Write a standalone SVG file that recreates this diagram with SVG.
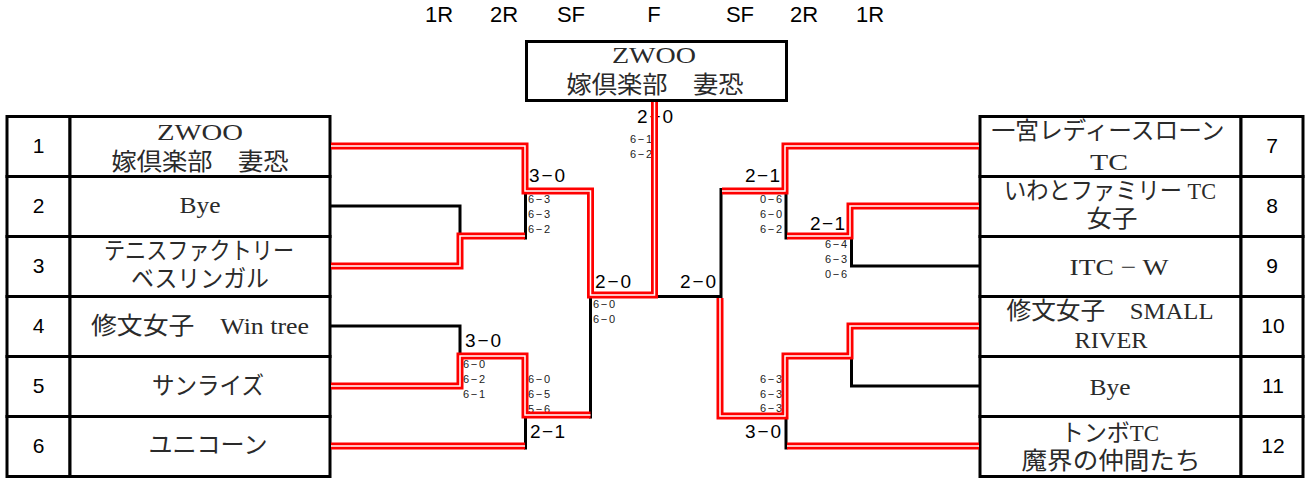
<svg xmlns="http://www.w3.org/2000/svg" xmlns:xlink="http://www.w3.org/1999/xlink" width="1305" height="479" viewBox="0 0 1305 479">
<style>
.cell{fill:#fff;stroke:#000;stroke-width:3}
.nm{font-family:"Liberation Serif","Noto Sans CJK JP",serif;font-size:24px;text-anchor:middle;fill:#2a2a2a}
.no{font-family:"Liberation Sans",Arial,sans-serif;font-size:21px;text-anchor:middle;fill:#000}
.hd{font-family:"Liberation Sans",Arial,sans-serif;font-size:22px;text-anchor:middle;fill:#000}
.sc{font-family:"Liberation Sans",Arial,sans-serif;font-size:19px;fill:#000}
.ss{font-family:"Liberation Sans",Arial,sans-serif;font-size:11px;fill:#222}
.bk{fill:none;stroke:#000;stroke-width:3}
.rd{fill:none;stroke:#ff0000;stroke-width:7}
.wt{fill:none;stroke:#fff;stroke-width:1.5}
</style>
<defs>
<path id="pL1" d="M331,146 H525 V191 H590.5 V295 H654.5 V102"/>
<path id="pL3" d="M331,266 H460 V236 H525"/>
<path id="pL5" d="M331,386 H460 V356 H525 V415 H590.5"/>
<path id="pL6" d="M331,446 H525"/>
<path id="pR7" d="M979,146 H785 V191 H722"/>
<path id="pR8" d="M979,206 H850 V236 H787"/>
<path id="pR10" d="M979,326 H850 V356 H785 V416 H720 V298"/>
<path id="pR12" d="M979,446 H787"/>
</defs>

<g id="header">
<text class="hd" x="439" y="22">1R</text>
<text class="hd" x="504" y="22">2R</text>
<text class="hd" x="571" y="22">SF</text>
<text class="hd" x="654" y="22">F</text>
<text class="hd" x="740" y="22">SF</text>
<text class="hd" x="804" y="22">2R</text>
<text class="hd" x="870" y="22">1R</text>
</g>

<g id="champion">
<rect class="cell" x="526.5" y="41.5" width="260" height="59"/>
<text class="nm" x="654" y="63" textLength="84" lengthAdjust="spacingAndGlyphs">ZWOO</text>
<text class="nm" x="655" y="93" textLength="177" lengthAdjust="spacingAndGlyphs">嫁倶楽部　妻恐</text>
</g>

<g id="team1">
<rect class="cell" x="7" y="116.5" width="63" height="60"/>
<rect class="cell" x="70" y="116.5" width="260" height="60"/>
<text class="no" x="38.5" y="153">1</text>
<text class="nm" x="200" y="140" textLength="86" lengthAdjust="spacingAndGlyphs">ZWOO</text>
<text class="nm" x="200" y="170" textLength="177" lengthAdjust="spacingAndGlyphs">嫁倶楽部　妻恐</text>
</g>
<g id="team2">
<rect class="cell" x="7" y="176.5" width="63" height="60"/>
<rect class="cell" x="70" y="176.5" width="260" height="60"/>
<text class="no" x="38.5" y="213">2</text>
<text class="nm" x="200" y="213" textLength="41" lengthAdjust="spacingAndGlyphs">Bye</text>
</g>
<g id="team3">
<rect class="cell" x="7" y="236.5" width="63" height="60"/>
<rect class="cell" x="70" y="236.5" width="260" height="60"/>
<text class="no" x="38.5" y="273">3</text>
<text class="nm" x="199" y="259" textLength="190" lengthAdjust="spacingAndGlyphs">テニスファクトリー</text>
<text class="nm" x="200" y="287" textLength="138" lengthAdjust="spacingAndGlyphs">ベスリンガル</text>
</g>
<g id="team4">
<rect class="cell" x="7" y="296.5" width="63" height="60"/>
<rect class="cell" x="70" y="296.5" width="260" height="60"/>
<text class="no" x="38.5" y="333">4</text>
<text class="nm" x="200" y="334" textLength="218" lengthAdjust="spacingAndGlyphs">修文女子　Win tree</text>
</g>
<g id="team5">
<rect class="cell" x="7" y="356.5" width="63" height="60"/>
<rect class="cell" x="70" y="356.5" width="260" height="60"/>
<text class="no" x="38.5" y="393">5</text>
<text class="nm" x="208" y="394" textLength="112" lengthAdjust="spacingAndGlyphs">サンライズ</text>
</g>
<g id="team6">
<rect class="cell" x="7" y="416.5" width="63" height="60"/>
<rect class="cell" x="70" y="416.5" width="260" height="60"/>
<text class="no" x="38.5" y="453">6</text>
<text class="nm" x="208" y="453" textLength="119" lengthAdjust="spacingAndGlyphs">ユニコーン</text>
</g>

<g id="team7">
<rect class="cell" x="980" y="116.5" width="261" height="60"/>
<rect class="cell" x="1241" y="116.5" width="62" height="60"/>
<text class="no" x="1272" y="153">7</text>
<text class="nm" x="1108" y="139" textLength="233" lengthAdjust="spacingAndGlyphs">一宮レディースローン</text>
<text class="nm" x="1109" y="170" textLength="38" lengthAdjust="spacingAndGlyphs">TC</text>
</g>
<g id="team8">
<rect class="cell" x="980" y="176.5" width="261" height="60"/>
<rect class="cell" x="1241" y="176.5" width="62" height="60"/>
<text class="no" x="1272" y="213">8</text>
<text class="nm" x="1110" y="199" textLength="212" lengthAdjust="spacingAndGlyphs">いわとファミリー TC</text>
<text class="nm" x="1112" y="227" textLength="51" lengthAdjust="spacingAndGlyphs">女子</text>
</g>
<g id="team9">
<rect class="cell" x="980" y="236.5" width="261" height="60"/>
<rect class="cell" x="1241" y="236.5" width="62" height="60"/>
<text class="no" x="1272" y="273">9</text>
<text class="nm" x="1119" y="275" textLength="99" lengthAdjust="spacingAndGlyphs">ITC − W</text>
</g>
<g id="team10">
<rect class="cell" x="980" y="296.5" width="261" height="60"/>
<rect class="cell" x="1241" y="296.5" width="62" height="60"/>
<text class="no" x="1273" y="333">10</text>
<text class="nm" x="1110" y="319" textLength="207" lengthAdjust="spacingAndGlyphs">修文女子　SMALL</text>
<text class="nm" x="1111" y="348" textLength="73" lengthAdjust="spacingAndGlyphs">RIVER</text>
</g>
<g id="team11">
<rect class="cell" x="980" y="356.5" width="261" height="60"/>
<rect class="cell" x="1241" y="356.5" width="62" height="60"/>
<text class="no" x="1273" y="393">11</text>
<text class="nm" x="1110" y="395" textLength="41" lengthAdjust="spacingAndGlyphs">Bye</text>
</g>
<g id="team12">
<rect class="cell" x="980" y="416.5" width="261" height="60"/>
<rect class="cell" x="1241" y="416.5" width="62" height="60"/>
<text class="no" x="1273" y="453">12</text>
<text class="nm" x="1110" y="441" textLength="98" lengthAdjust="spacingAndGlyphs">トンボTC</text>
<text class="nm" x="1111" y="469" textLength="179" lengthAdjust="spacingAndGlyphs">魔界の仲間たち</text>
</g>

<g id="scores">
<text class="sc" x="529" y="182" textLength="36">3−0</text>
<text class="ss" x="528" y="203" textLength="22">6−3</text>
<text class="ss" x="528" y="218" textLength="22">6−3</text>
<text class="ss" x="528" y="233" textLength="22">6−2</text>
<text class="sc" x="465" y="347" textLength="36">3−0</text>
<text class="ss" x="463" y="368" textLength="22">6−0</text>
<text class="ss" x="463" y="383" textLength="22">6−2</text>
<text class="ss" x="463" y="398" textLength="22">6−1</text>
<text class="ss" x="528" y="383" textLength="22">6−0</text>
<text class="ss" x="528" y="398" textLength="22">6−5</text>
<text class="ss" x="528" y="413" textLength="22">5−6</text>
<text class="sc" x="530" y="438" textLength="35">2−1</text>
<text class="sc" x="595" y="288" textLength="36">2−0</text>
<text class="ss" x="593" y="308" textLength="22">6−0</text>
<text class="ss" x="593" y="323" textLength="22">6−0</text>
<text class="sc" x="637" y="123" textLength="36">2−0</text>
<text class="ss" x="630" y="143" textLength="22">6−1</text>
<text class="ss" x="630" y="158" textLength="22">6−2</text>
<text class="sc" x="680" y="288" textLength="36">2−0</text>
<text class="sc" x="745" y="182" textLength="35">2−1</text>
<text class="ss" x="782" y="203" text-anchor="end" textLength="22">0−6</text>
<text class="ss" x="782" y="218" text-anchor="end" textLength="22">6−0</text>
<text class="ss" x="782" y="233" text-anchor="end" textLength="22">6−2</text>
<text class="sc" x="810" y="230" textLength="35">2−1</text>
<text class="ss" x="825" y="248" textLength="22">6−4</text>
<text class="ss" x="825" y="263" textLength="22">6−3</text>
<text class="ss" x="825" y="278" textLength="22">0−6</text>
<text class="ss" x="782" y="383" text-anchor="end" textLength="22">6−3</text>
<text class="ss" x="782" y="398" text-anchor="end" textLength="22">6−3</text>
<text class="ss" x="782" y="412" text-anchor="end" textLength="22">6−3</text>
<text class="sc" x="745" y="438" textLength="36">3−0</text>
</g>

<g id="connectors">
<path class="bk" d="M331,206 H460 V236"/>
<path class="bk" d="M331,326 H460 V356"/>
<path class="bk" d="M525.5,191 V239.5"/>
<path class="bk" d="M525.5,415 V449.5"/>
<path class="bk" d="M590.5,295 V418.5"/>
<path class="bk" d="M590.5,296.5 H721 V188"/>
<path class="bk" d="M979,266 H851.5 V236"/>
<path class="bk" d="M979,386 H851.5 V356"/>
<path class="bk" d="M786,191 V239.5"/>
<path class="bk" d="M786,416 V449.5"/>
<use xlink:href="#pL1" class="rd"/><use xlink:href="#pL1" class="wt"/>
<use xlink:href="#pL3" class="rd"/><use xlink:href="#pL3" class="wt"/>
<use xlink:href="#pL5" class="rd"/><use xlink:href="#pL5" class="wt"/>
<use xlink:href="#pL6" class="rd"/><use xlink:href="#pL6" class="wt"/>
<use xlink:href="#pR7" class="rd"/><use xlink:href="#pR7" class="wt"/>
<use xlink:href="#pR8" class="rd"/><use xlink:href="#pR8" class="wt"/>
<use xlink:href="#pR10" class="rd"/><use xlink:href="#pR10" class="wt"/>
<use xlink:href="#pR12" class="rd"/><use xlink:href="#pR12" class="wt"/>
</g>
</svg>
